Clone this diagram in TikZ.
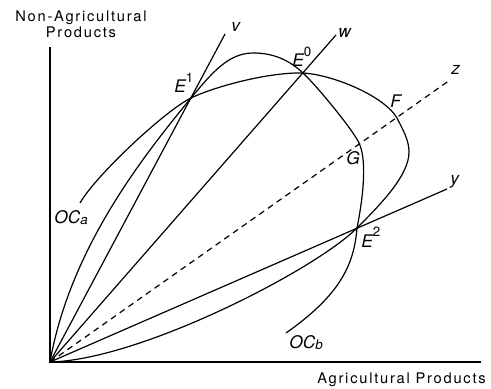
\documentclass[tikz,border=0pt]{standalone}
\usepackage{fontspec}
\setmainfont{TeX Gyre Heros}
\newfontfamily\axisfont{TeX Gyre Heros}[LetterSpace=12]
\newcommand{\mysup}[1]{\raisebox{7.6pt}{\fontsize{10}{10}\selectfont\upshape #1}}
\newcommand{\mysub}[1]{\raisebox{-1.4pt}{\fontsize{10}{10}\selectfont #1}}
\begin{document}
\begin{tikzpicture}[x=0.75pt,y=-0.75pt,
  curve/.style={line width=0.9pt},
  ray/.style={line width=0.9pt},
  dashray/.style={line width=0.9pt, dash pattern=on 4.5pt off 3.5pt},
  axis/.style={line width=1.6pt},
  lbl/.style={inner sep=0pt, font=\fontsize{13}{15}\selectfont\itshape},
  axlbl/.style={inner sep=0pt, font=\fontsize{11}{13}\selectfont\axisfont}]
\useasboundingbox (0,0) rectangle (491,388);
% key points
\coordinate (O) at (50,362);
\coordinate (Ytop) at (50,47);
\coordinate (Xend) at (481,362);
\coordinate (E1) at (191,98);
\coordinate (E0) at (303,73);
\coordinate (E2) at (357,228);
\coordinate (F) at (397,118);
\coordinate (G) at (359,143);
\coordinate (vend) at (225,34);
\coordinate (wend) at (336,35);
\coordinate (zend) at (450,80);
\coordinate (yend) at (447,189);
\coordinate (Pb) at (253,53);
\coordinate (Ra) at (409,152);
\coordinate (OCaend) at (80,203);
\coordinate (OCbend) at (286,333);
% axes
\draw[axis] (Ytop) -- (O) -- (Xend);
% rays
\draw[ray] (O) -- (vend);
\draw[ray] (O) -- (wend);
\draw[dashray] (O) -- (zend);
\draw[ray] (O) -- (yend);
% OC_b
\draw[curve] (O) .. controls (70,250) and (140,160) .. (E1)
  .. controls (211,74) and (228,53) .. (Pb)
  .. controls (275,53) and (290,61) .. (E0)
  .. controls (316,85) and (352.7,129.4) .. (G)
  .. controls (368,162) and (362,203) .. (E2)
  .. controls (354,265) and (340,295) .. (OCbend);
% OC_a
\draw[curve] (O) .. controls (140,360) and (315,270) .. (E2)
  .. controls (382,203) and (409,175) .. (Ra)
  .. controls (409,140) and (403,130) .. (F)
  .. controls (385,97) and (335,75) .. (E0)
  .. controls (270,72) and (216,86) .. (E1)
  .. controls (166,110) and (96,175) .. (OCaend);
% labels
\node[lbl, anchor=base west] (lv) at (231,32) {v};
\node[lbl, anchor=base west] (lw) at (338,38) {w};
\node[lbl, anchor=base west] (lz) at (451,75) {z};
\node[lbl, anchor=base west] (ly) at (450,185) {y};
\node[lbl, anchor=base west] (lE1) at (174,93) {E\mysup{1}};
\node[lbl, anchor=base west] (lE0) at (292,67) {E\mysup{0}};
\node[lbl, anchor=base west] (lE2) at (361,247) {E\mysup{2}};
\node[lbl, anchor=base west] (lF) at (390,108) {F};
\node[lbl, anchor=base west] (lG) at (346,165) {G};
\node[lbl, anchor=base west] (lOCa) at (54,223) {OC\mysub{a}};
\node[lbl, anchor=base west] (lOCb) at (289,348) {OC\mysub{b}};
\node[axlbl, anchor=base] (ylab1) at (81,22) {Non-Agricultural};
\node[axlbl, anchor=base] (ylab2) at (81,37.5) {Products};
\node[axlbl, anchor=base east] (xlab) at (486,383) {Agricultural Products};
\end{tikzpicture}
\end{document}
